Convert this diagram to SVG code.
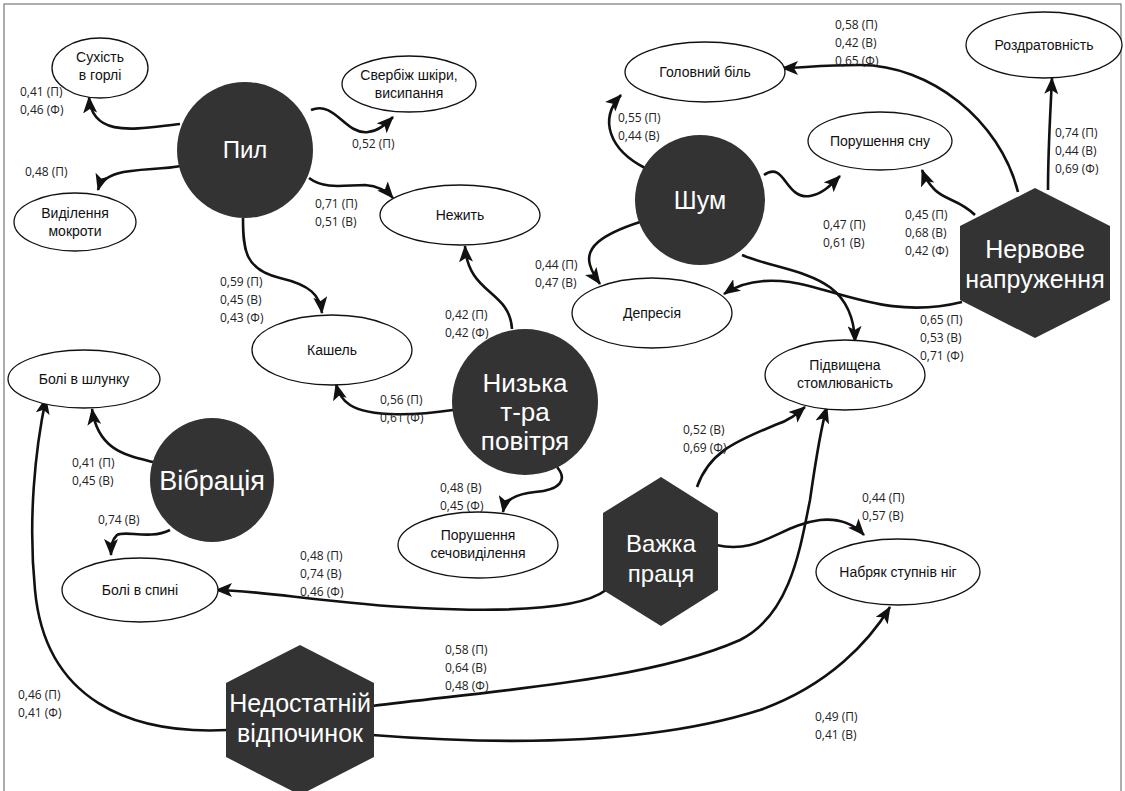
<svg xmlns="http://www.w3.org/2000/svg" width="1125" height="791" viewBox="0 0 1125 791">
<defs>
<marker id="ah" markerWidth="18" markerHeight="14" refX="16" refY="7" orient="auto" markerUnits="userSpaceOnUse">
<path d="M0,0 L17,7 L0,14 L4,7 z" fill="#111"/>
</marker>
<style>
.el{fill:#fff;stroke:#111;stroke-width:1.3}
.dk{fill:#333;stroke:none}
.lt{font-family:"Liberation Sans",Arial,sans-serif;font-size:14px;fill:#111;text-anchor:middle}
.dt{font-family:"Liberation Sans",Arial,sans-serif;font-size:24px;fill:#fff;text-anchor:middle}
.nm{font-family:"Open Sans","DejaVu Sans",sans-serif;font-size:12px;fill:#222}
.cn{fill:none;stroke:#111;stroke-width:2.6;marker-end:url(#ah)}
</style>
</defs>
<rect x="0" y="0" width="1125" height="791" fill="#fff"/>
<rect x="4" y="4" width="1117" height="800" fill="none" stroke="#777" stroke-width="1.2"/>

<g id="connectors">
<path class="cn" d="M180,124 C140,128 92,140 89,97"/>
<path class="cn" d="M181,166 C150,172 105,165 98,190"/>
<path class="cn" d="M311,110 C335,100 345,135 368,132 C378,131 385,125 393,117"/>
<path class="cn" d="M309,178 C325,190 345,185 365,185 C378,186 386,190 393,198"/>
<path class="cn" d="M243,218 C243,250 245,270 280,278 C310,285 320,295 322,313"/>
<path class="cn" d="M453,410 C420,415 370,418 350,405 C342,400 338,392 336,384"/>
<path class="cn" d="M512,329 C510,290 468,295 465,246"/>
<path class="cn" d="M557,467 C568,480 560,490 535,492 C515,494 505,500 503,512"/>
<path class="cn" d="M153,462 C125,455 98,450 92,409"/>
<path class="cn" d="M170,530 C150,540 125,530 117,535 C112,540 111,545 111,555"/>
<path class="cn" d="M645,168 C610,150 598,120 621,95"/>
<path class="cn" d="M764,175 C785,160 785,200 810,196 C822,194 830,186 840,176"/>
<path class="cn" d="M640,222 C600,235 585,248 590,265 C592,272 595,277 600,284"/>
<path class="cn" d="M742,255 C790,275 853,270 855,342"/>
<path class="cn" d="M1018,192 C1000,120 930,65 860,65 C820,65 800,68 782,68"/>
<path class="cn" d="M1048,190 C1048,150 1050,120 1052,78"/>
<path class="cn" d="M975,215 C960,200 945,200 935,190 C930,185 925,178 922,170"/>
<path class="cn" d="M962,302 C890,320 840,290 790,282 C760,278 740,283 724,294"/>
<path class="cn" d="M697,487 C710,450 740,440 775,425 C790,420 798,413 805,407"/>
<path class="cn" d="M716,545 C760,555 780,525 820,520 C840,518 855,525 864,535"/>
<path class="cn" d="M606,590 C580,610 500,612 420,608 C330,604 260,590 216,590"/>
<path class="cn" d="M228,730 C130,735 45,700 35,590 C28,520 35,450 46,398"/>
<path class="cn" d="M372,706 C500,690 650,680 740,640 C790,615 800,550 810,500 C815,465 820,430 827,407"/>
<path class="cn" d="M372,735 C500,745 650,745 760,710 C830,685 870,640 890,607"/>
</g>

<g id="n-suhist"><ellipse class="el" cx="100" cy="68" rx="48" ry="30"/><text class="lt" x="100" y="62">Сухість</text><text class="lt" x="100" y="80">в горлі</text></g>
<g id="n-sverbizh"><ellipse class="el" cx="409" cy="84" rx="67" ry="28"/><text class="lt" x="409" y="80">Свербіж шкіри,</text><text class="lt" x="409" y="98">висипання</text></g>
<g id="n-vydilennia"><ellipse class="el" cx="75" cy="222" rx="61" ry="29"/><text class="lt" x="75" y="218">Виділення</text><text class="lt" x="75" y="236">мокроти</text></g>
<g id="n-nezhyt"><ellipse class="el" cx="460" cy="215" rx="80" ry="30"/><text class="lt" x="460" y="220">Нежить</text></g>
<g id="n-kashel"><ellipse class="el" cx="332" cy="350" rx="80" ry="35"/><text class="lt" x="332" y="355">Кашель</text></g>
<g id="n-shlunok"><ellipse class="el" cx="84" cy="379" rx="76" ry="29"/><text class="lt" x="84" y="384">Болі в шлунку</text></g>
<g id="n-sechovyd"><ellipse class="el" cx="478" cy="545" rx="80" ry="33"/><text class="lt" x="478" y="540">Порушення</text><text class="lt" x="478" y="558">сечовиділення</text></g>
<g id="n-spyna"><ellipse class="el" cx="140" cy="590" rx="78" ry="32"/><text class="lt" x="140" y="595">Болі в спині</text></g>
<g id="n-holovnyi"><ellipse class="el" cx="705" cy="72" rx="80" ry="30"/><text class="lt" x="705" y="77">Головний біль</text></g>
<g id="n-rozdrat"><ellipse class="el" cx="1044" cy="45" rx="78" ry="33"/><text class="lt" x="1044" y="50">Роздратовність</text></g>
<g id="n-son"><ellipse class="el" cx="880" cy="141" rx="72" ry="29"/><text class="lt" x="880" y="146">Порушення сну</text></g>
<g id="n-depresiia"><ellipse class="el" cx="652" cy="313" rx="80" ry="35"/><text class="lt" x="652" y="318">Депресія</text></g>
<g id="n-stoml"><ellipse class="el" cx="845" cy="375" rx="80" ry="35"/><text class="lt" x="845" y="370">Підвищена</text><text class="lt" x="845" y="388">стомлюваність</text></g>
<g id="n-nabriak"><ellipse class="el" cx="898" cy="572" rx="82" ry="33"/><text class="lt" x="898" y="577">Набряк ступнів ніг</text></g>

<g id="n-pyl"><circle class="dk" cx="245" cy="150" r="68"/><text class="dt" x="245" y="158">Пил</text></g>
<g id="n-shum"><circle class="dk" cx="700" cy="200" r="65"/><text class="dt" x="700" y="209" style="font-size:25px">Шум</text></g>
<g id="n-nyzka"><circle class="dk" cx="525" cy="402" r="73"/><text class="dt" x="525" y="392" style="font-size:26px">Низька</text><text class="dt" x="525" y="421" style="font-size:26px">т-ра</text><text class="dt" x="525" y="450" style="font-size:26px">повітря</text></g>
<g id="n-vibratsiia"><circle class="dk" cx="212" cy="480" r="62"/><text class="dt" x="212" y="490" style="font-size:27px">Вібрація</text></g>
<g id="n-nervove"><polygon class="dk" points="1035,188 1110,226 1110,300 1035,338 960,300 960,226"/><text class="dt" x="1035" y="258" style="font-size:25px">Нервове</text><text class="dt" x="1035" y="288" style="font-size:25px">напруження</text></g>
<g id="n-vazhka"><polygon class="dk" points="661,477 718,513 718,590 661,626 603,590 603,513"/><text class="dt" x="661" y="552">Важка</text><text class="dt" x="661" y="582">праця</text></g>
<g id="n-nedostatnii"><polygon class="dk" points="300,645 374,683 374,757 300,795 226,757 226,683"/><text class="dt" x="300" y="712" style="font-size:25px">Недостатній</text><text class="dt" x="300" y="742" style="font-size:25px">відпочинок</text></g>

<g id="labels">
<text class="nm" x="20" y="96">0,41 (П)</text><text class="nm" x="20" y="114">0,46 (Ф)</text>
<text class="nm" x="25" y="176">0,48 (П)</text>
<text class="nm" x="352" y="148">0,52 (П)</text>
<text class="nm" x="315" y="208">0,71 (П)</text><text class="nm" x="315" y="226">0,51 (В)</text>
<text class="nm" x="220" y="286">0,59 (П)</text><text class="nm" x="220" y="304">0,45 (В)</text><text class="nm" x="220" y="322">0,43 (Ф)</text>
<text class="nm" x="380" y="404">0,56 (П)</text><text class="nm" x="380" y="422">0,61 (Ф)</text>
<text class="nm" x="445" y="319">0,42 (П)</text><text class="nm" x="445" y="337">0,42 (Ф)</text>
<text class="nm" x="440" y="492">0,48 (В)</text><text class="nm" x="440" y="510">0,45 (Ф)</text>
<text class="nm" x="72" y="467">0,41 (П)</text><text class="nm" x="72" y="485">0,45 (В)</text>
<text class="nm" x="98" y="524">0,74 (В)</text>
<text class="nm" x="618" y="122">0,55 (П)</text><text class="nm" x="618" y="140">0,44 (В)</text>
<text class="nm" x="535" y="269">0,44 (П)</text><text class="nm" x="535" y="287">0,47 (В)</text>
<text class="nm" x="823" y="229">0,47 (П)</text><text class="nm" x="823" y="247">0,61 (В)</text>
<text class="nm" x="835" y="29">0,58 (П)</text><text class="nm" x="835" y="47">0,42 (В)</text><text class="nm" x="835" y="65">0,65 (Ф)</text>
<text class="nm" x="1055" y="137">0,74 (П)</text><text class="nm" x="1055" y="155">0,44 (В)</text><text class="nm" x="1055" y="173">0,69 (Ф)</text>
<text class="nm" x="905" y="219">0,45 (П)</text><text class="nm" x="905" y="237">0,68 (В)</text><text class="nm" x="905" y="255">0,42 (Ф)</text>
<text class="nm" x="920" y="324">0,65 (П)</text><text class="nm" x="920" y="342">0,53 (В)</text><text class="nm" x="920" y="360">0,71 (Ф)</text>
<text class="nm" x="683" y="434">0,52 (В)</text><text class="nm" x="683" y="452">0,69 (Ф)</text>
<text class="nm" x="862" y="502">0,44 (П)</text><text class="nm" x="862" y="520">0,57 (В)</text>
<text class="nm" x="300" y="560">0,48 (П)</text><text class="nm" x="300" y="578">0,74 (В)</text><text class="nm" x="300" y="596">0,46 (Ф)</text>
<text class="nm" x="18" y="699">0,46 (П)</text><text class="nm" x="18" y="717">0,41 (Ф)</text>
<text class="nm" x="445" y="654">0,58 (П)</text><text class="nm" x="445" y="672">0,64 (В)</text><text class="nm" x="445" y="690">0,48 (Ф)</text>
<text class="nm" x="815" y="721">0,49 (П)</text><text class="nm" x="815" y="739">0,41 (В)</text>
</g>
</svg>
